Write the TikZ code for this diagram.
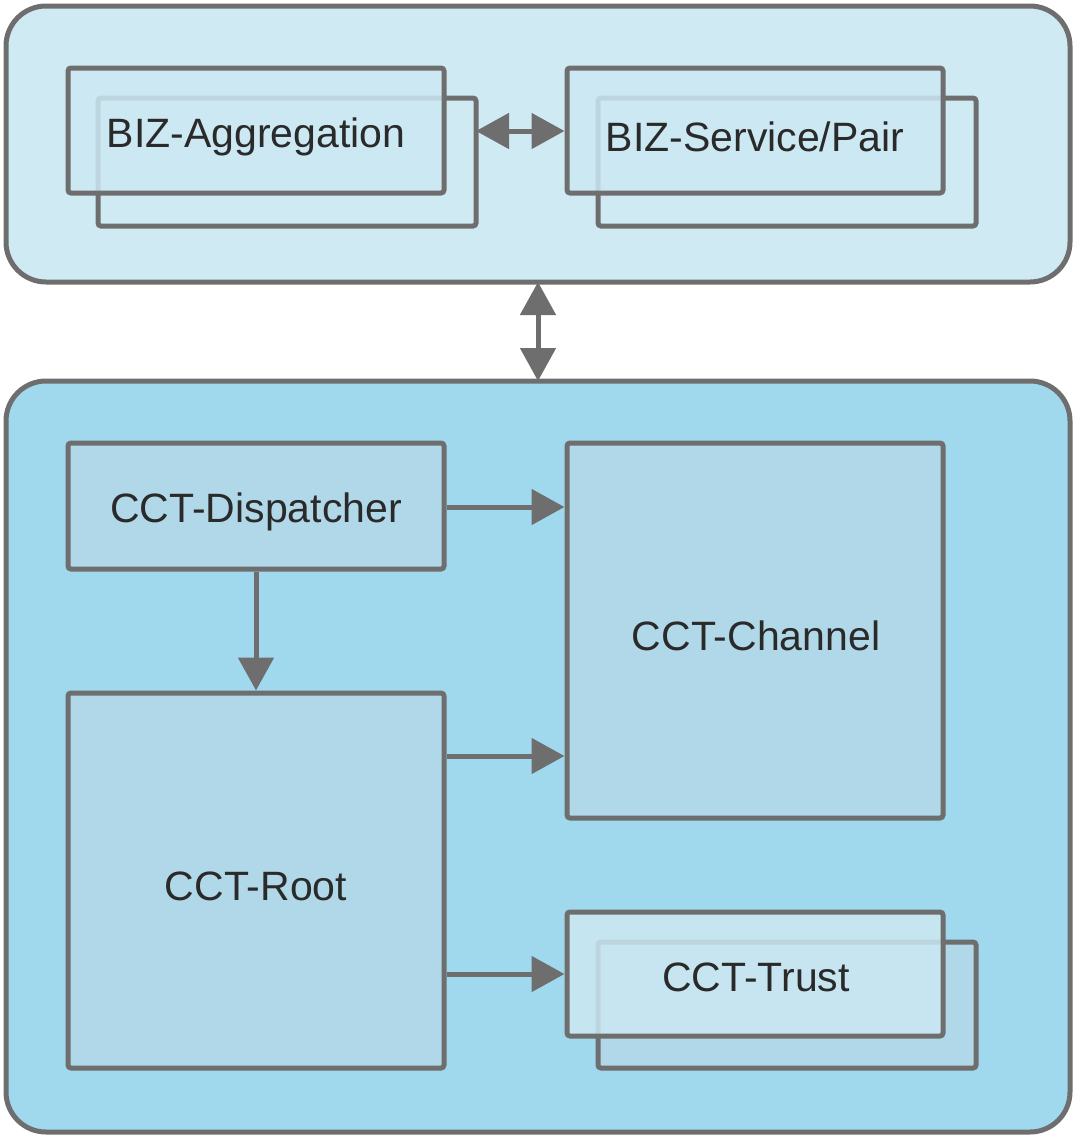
\documentclass[tikz,border=0pt]{standalone}
\usepackage{fontspec}
\setmainfont{Liberation Sans}
\usetikzlibrary{arrows.meta}
\definecolor{edge}{HTML}{6E6E6E}
\definecolor{topfill}{HTML}{D0EAF4}
\definecolor{botfill}{HTML}{A0D8EE}
\definecolor{boxfill}{HTML}{B0D8E8}
\definecolor{lightbox}{HTML}{CCE8F2}
\definecolor{txt}{HTML}{2A2A2A}
\tikzset{
  container/.style={draw=edge, line width=5pt, rounded corners=40pt},
  blockbox/.style={draw=edge, line width=5pt, rounded corners=3pt, fill=boxfill},
  frontbox/.style={draw=edge, line width=5pt, rounded corners=3pt, fill=lightbox, fill opacity=0.85, draw opacity=1},
  backbox/.style={draw=edge, line width=5pt, rounded corners=3pt},
  lbl/.style={text=txt, font=\fontsize{41}{49}\selectfont, text opacity=1},
  conn/.style={draw=edge, line width=5pt, -{Triangle[width=35pt,length=33pt]}},
  dconn/.style={draw=edge, line width=5pt, {Triangle[width=35pt,length=33pt]}-{Triangle[width=35pt,length=33pt]}},
}
\begin{document}
\begin{tikzpicture}[x=1pt,y=-1pt]
\useasboundingbox (0,0) rectangle (1082,1144);
% containers
\draw[container, fill=topfill] (6,6) rectangle (1070,282);
\draw[container, fill=botfill] (6,381) rectangle (1070,1132);
\coordinate (topC) at (538,282);
\coordinate (botC) at (538,381);

% BIZ-Aggregation (stacked)
\draw[backbox, fill=topfill] (98,98) rectangle (476,226);
\node[frontbox, minimum width=376pt, minimum height=125pt, inner sep=0pt] (agg) at (256,130.5) {};
\node[lbl] at (256,137) {BIZ-Aggregation};
\coordinate (aggR) at (476,131);

% BIZ-Service/Pair (stacked)
\draw[backbox, fill=topfill] (598,98) rectangle (976,226);
\node[frontbox, minimum width=376pt, minimum height=125pt, inner sep=0pt] (svc) at (755,130.5) {};
\node[lbl] at (755,137) {BIZ-Service/Pair};

% CCT blocks
\node[blockbox, minimum width=376pt, minimum height=126pt, inner sep=0pt] (disp) at (256,506) {};
\node[lbl] at (256,512) {CCT-Dispatcher};
\node[blockbox, minimum width=376pt, minimum height=375pt, inner sep=0pt] (chan) at (755,630.5) {};
\node[lbl] at (756,636) {CCT-Channel};
\node[blockbox, minimum width=376pt, minimum height=375pt, inner sep=0pt] (root) at (256,880.5) {};
\node[lbl] at (256,886) {CCT-Root};

% CCT-Trust (stacked)
\draw[backbox, fill=boxfill] (598,942) rectangle (976,1068);
\node[frontbox, minimum width=376pt, minimum height=124pt, inner sep=0pt] (trust) at (755,974) {};
\node[lbl] at (756,977) {CCT-Trust};

% connectors
\draw[dconn] (aggR) -- (svc.west |- aggR);
\draw[dconn] (topC) -- (botC);
\draw[conn] (disp.east |- 0,507) -- (chan.west |- 0,507);
\draw[conn] (disp.south) -- (root.north);
\draw[conn] (root.east |- 0,756) -- (chan.west |- 0,756);
\draw[conn] (root.east |- 0,974) -- (trust.west);
\end{tikzpicture}
\end{document}
